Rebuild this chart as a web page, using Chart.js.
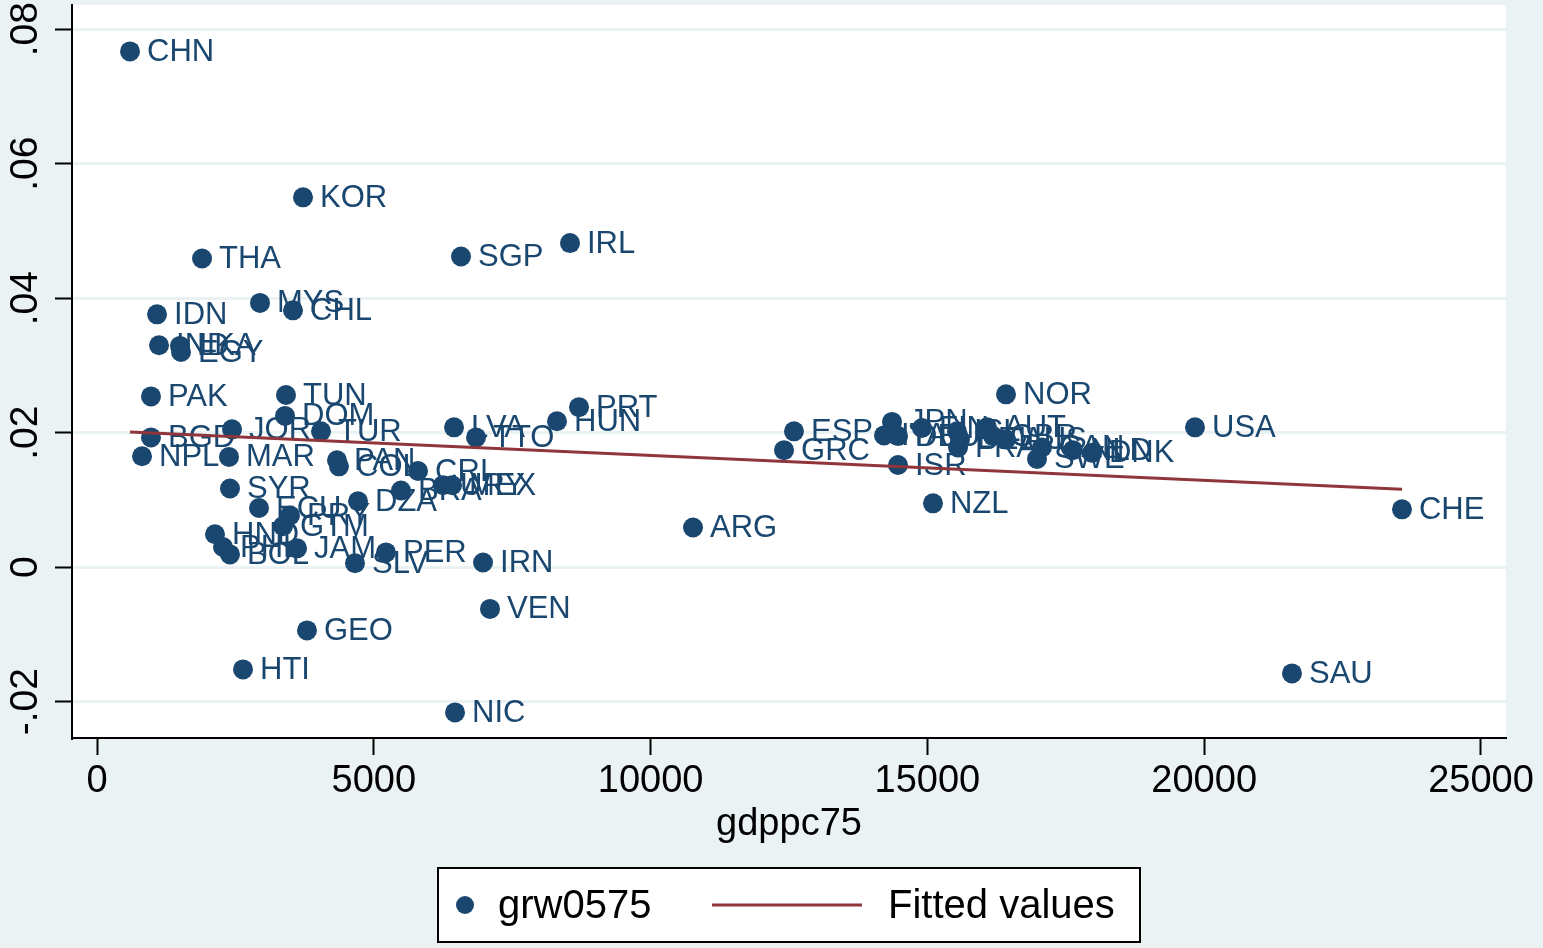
<!DOCTYPE html>
<html>
<head>
<meta charset="utf-8">
<script src="https://cdn.jsdelivr.net/npm/chart.js@4"></script>
<style>
  body { margin: 0; background: #eaf2f3; }
  #wrap { width: 1543px; height: 948px; }
</style>
</head>
<body>
<div id="wrap"><canvas id="chart" width="1543" height="948"></canvas></div>
<script>
// country codes, GDP per capita 1975 and growth 1975-2005
const countries = ['CHN','KOR','THA','SGP','IRL','MYS','CHL','IDN','IND','LKA','EGY','PAK','TUN','DOM','BGD','JOR','TUR','NPL','MAR','PAN','COL','CRI','SYR','DZA','BRA','URY','MEX','ECU','PRY','GTM','HND','PHL','BOL','JAM','SLV','PER','IRN','LVA','TTO','HUN','PRT','ARG','VEN','GEO','HTI','NIC','ESP','GRC','ISR','NZL','NOR','USA','CHE','SAU','JPN','ITA','DEU','FIN','ISL','BEL','FRA','AUT','GBR','AUS','CAN','SWE','NLD','DNK'];
const gdppc75 = [596,3721,1897,6575,8544,2944,3540,1084,1120,1499,1517,975,3414,3396,975,2439,4046,813,2384,4335,4371,5798,2402,4715,5491,6250,6413,2926,3486,3360,2131,2276,2402,3613,4660,5220,6973,6449,6846,8309,8707,10766,7099,3793,2637,6467,12590,12410,14469,15101,16420,19834,23573,21586,14361,14216,14469,14903,15535,15589,15553,16077,16185,16420,17070,16980,17630,17973];
const grw0575 = [0.0767,0.0550,0.0459,0.0462,0.0482,0.0393,0.0382,0.0376,0.0330,0.0329,0.0320,0.0254,0.0256,0.0225,0.0193,0.0205,0.0202,0.0165,0.0164,0.0159,0.0150,0.0143,0.0117,0.0098,0.0114,0.0122,0.0122,0.0088,0.0077,0.0061,0.0049,0.0030,0.0019,0.0028,0.0006,0.0022,0.0007,0.0208,0.0193,0.0217,0.0238,0.0059,-0.0062,-0.0094,-0.0152,-0.0216,0.0202,0.0174,0.0152,0.0095,0.0257,0.0208,0.0086,-0.0158,0.0216,0.0196,0.0195,0.0207,0.0202,0.0190,0.0178,0.0208,0.0195,0.0190,0.0178,0.0161,0.0174,0.0170];

// fitted line end points
const fitX = [596, 23573];
const fitY = [0.0201, 0.0116];

const xTicks = [0, 5000, 10000, 15000, 20000, 25000];
const yTicks = [-0.02, 0, 0.02, 0.04, 0.06, 0.08];

const navy = '#1a476f';
const maroon = '#90353b';
const bg = '#eaf2f3';
const fontFamily = '"Liberation Sans", Arial, sans-serif';

const fmtY = v => {
    if (Math.abs(v) < 1e-9) return '0';
    return (v < 0 ? '-' : '') + Math.abs(v).toFixed(2).replace(/^0/, '');
};

const background = {
    id: 'background',
    beforeDraw(chart) {
        const {ctx, chartArea: a} = chart;
        ctx.save();
        ctx.fillStyle = bg;
        ctx.fillRect(0, 0, chart.width, chart.height);
        ctx.fillStyle = '#fff';
        ctx.fillRect(a.left, a.top, a.right - a.left, a.bottom - a.top);
        ctx.restore();
    }
};

const pointLabels = {
    id: 'pointLabels',
    afterDatasetDraw(chart, args) {
        if (args.index !== 0) return;
        const {ctx} = chart;
        const meta = chart.getDatasetMeta(0);
        ctx.save();
        ctx.font = '31px ' + fontFamily;
        ctx.fillStyle = navy;
        ctx.textBaseline = 'middle';
        ctx.textAlign = 'left';
        meta.data.forEach((pt, i) => {
            ctx.fillText(countries[i], pt.x + 17, pt.y + 1);
        });
        ctx.restore();
    }
};

const legendBox = {
    id: 'legendBox',
    afterDraw(chart) {
        const {ctx} = chart;
        ctx.save();
        ctx.fillStyle = '#fff';
        ctx.fillRect(438, 868, 702, 74);
        ctx.strokeStyle = '#000';
        ctx.lineWidth = 2;
        ctx.strokeRect(438, 868, 702, 74);
        ctx.fillStyle = navy;
        ctx.beginPath();
        ctx.arc(465, 905, 9, 0, Math.PI * 2);
        ctx.fill();
        ctx.strokeStyle = maroon;
        ctx.lineWidth = 3;
        ctx.beginPath();
        ctx.moveTo(712, 905);
        ctx.lineTo(862, 905);
        ctx.stroke();
        ctx.fillStyle = '#000';
        ctx.font = '40px ' + fontFamily;
        ctx.textBaseline = 'middle';
        ctx.fillText('grw0575', 498, 907);
        ctx.fillText('Fitted values', 888, 907);
        ctx.restore();
    }
};

new Chart(document.getElementById('chart'), {
    type: 'scatter',
    data: {
        datasets: [{
            label: 'grw0575',
            data: gdppc75.map((x, i) => ({x: x, y: grw0575[i]})),
            backgroundColor: navy,
            borderColor: navy,
            borderWidth: 0,
            pointRadius: 10,
            order: 1
        }, {
            label: 'Fitted values',
            type: 'line',
            data: fitX.map((x, i) => ({x: x, y: fitY[i]})),
            borderColor: maroon,
            borderWidth: 3,
            pointRadius: 0,
            fill: false,
            order: 0
        }]
    },
    options: {
        responsive: false,
        animation: false,
        layout: { autoPadding: false, padding: { top: 5, right: 37, bottom: 100, left: 0 } },
        plugins: {
            legend: { display: false },
            tooltip: { enabled: false }
        },
        scales: {
            x: {
                type: 'linear',
                min: -452,
                max: 25452,
                afterBuildTicks: s => { s.ticks = xTicks.map(v => ({value: v})); },
                afterFit: s => { s.height = 110; s.paddingLeft = 0; s.paddingRight = 0; },
                grid: { drawOnChartArea: false, tickLength: 17, tickColor: '#000', tickWidth: 2 },
                border: { color: '#000', width: 2 },
                ticks: {
                    color: '#000',
                    padding: 4,
                    maxRotation: 0,
                    font: { family: fontFamily, size: 38 },
                    callback: v => String(v)
                },
                title: {
                    display: true,
                    text: 'gdppc75',
                    color: '#000',
                    padding: { top: 4, bottom: 1 },
                    font: { family: fontFamily, size: 38 }
                }
            },
            y: {
                min: -0.0254,
                max: 0.0836,
                afterBuildTicks: s => { s.ticks = yTicks.map(v => ({value: v})); },
                afterFit: s => { s.width = 72; s.paddingTop = 0; s.paddingBottom = 0; },
                grid: { color: bg, lineWidth: 3, tickLength: 17, tickColor: '#000', tickWidth: 2 },
                border: { color: '#000', width: 2 },
                ticks: {
                    color: '#000',
                    padding: -5,
                    minRotation: 90,
                    maxRotation: 90,
                    crossAlign: 'center',
                    font: { family: fontFamily, size: 39 },
                    callback: v => fmtY(v)
                }
            }
        }
    },
    plugins: [background, pointLabels, legendBox]
});
</script>
</body>
</html>
